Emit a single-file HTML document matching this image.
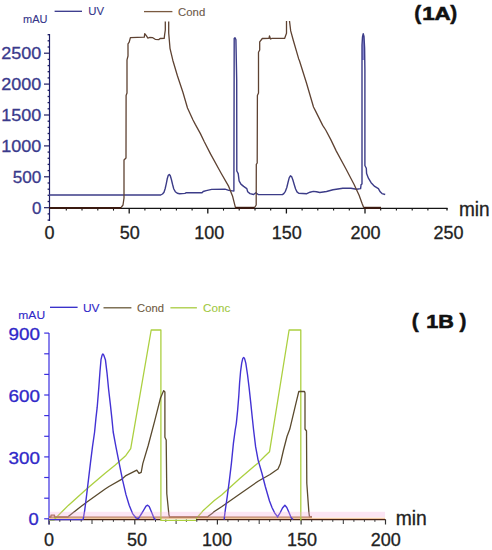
<!DOCTYPE html>
<html><head><meta charset="utf-8"><style>
html,body{margin:0;padding:0;background:#fff;overflow:hidden;}
svg{display:block;}
text{font-family:"Liberation Sans", sans-serif;}
</style></head><body>
<svg width="492" height="550" viewBox="0 0 492 550">
<rect width="492" height="550" fill="#fff"/>
<line x1="49.5" y1="34" x2="49.5" y2="221" stroke="#1e1e66" stroke-width="1.2"/>
<line x1="44" y1="207.7" x2="49.5" y2="207.7" stroke="#1e1e66" stroke-width="1.2"/>
<line x1="44" y1="176.8" x2="49.5" y2="176.8" stroke="#1e1e66" stroke-width="1.2"/>
<line x1="44" y1="145.9" x2="49.5" y2="145.9" stroke="#1e1e66" stroke-width="1.2"/>
<line x1="44" y1="115.0" x2="49.5" y2="115.0" stroke="#1e1e66" stroke-width="1.2"/>
<line x1="44" y1="84.1" x2="49.5" y2="84.1" stroke="#1e1e66" stroke-width="1.2"/>
<line x1="44" y1="53.2" x2="49.5" y2="53.2" stroke="#1e1e66" stroke-width="1.2"/>
<line x1="47.6" y1="220.1" x2="49.5" y2="220.1" stroke="#1e1e66" stroke-width="1.3"/>
<line x1="47.6" y1="213.9" x2="49.5" y2="213.9" stroke="#1e1e66" stroke-width="1.3"/>
<line x1="47.6" y1="201.5" x2="49.5" y2="201.5" stroke="#1e1e66" stroke-width="1.3"/>
<line x1="47.6" y1="195.3" x2="49.5" y2="195.3" stroke="#1e1e66" stroke-width="1.3"/>
<line x1="47.6" y1="189.2" x2="49.5" y2="189.2" stroke="#1e1e66" stroke-width="1.3"/>
<line x1="47.6" y1="183.0" x2="49.5" y2="183.0" stroke="#1e1e66" stroke-width="1.3"/>
<line x1="47.6" y1="170.6" x2="49.5" y2="170.6" stroke="#1e1e66" stroke-width="1.3"/>
<line x1="47.6" y1="164.4" x2="49.5" y2="164.4" stroke="#1e1e66" stroke-width="1.3"/>
<line x1="47.6" y1="158.3" x2="49.5" y2="158.3" stroke="#1e1e66" stroke-width="1.3"/>
<line x1="47.6" y1="152.1" x2="49.5" y2="152.1" stroke="#1e1e66" stroke-width="1.3"/>
<line x1="47.6" y1="139.7" x2="49.5" y2="139.7" stroke="#1e1e66" stroke-width="1.3"/>
<line x1="47.6" y1="133.5" x2="49.5" y2="133.5" stroke="#1e1e66" stroke-width="1.3"/>
<line x1="47.6" y1="127.4" x2="49.5" y2="127.4" stroke="#1e1e66" stroke-width="1.3"/>
<line x1="47.6" y1="121.2" x2="49.5" y2="121.2" stroke="#1e1e66" stroke-width="1.3"/>
<line x1="47.6" y1="108.8" x2="49.5" y2="108.8" stroke="#1e1e66" stroke-width="1.3"/>
<line x1="47.6" y1="102.6" x2="49.5" y2="102.6" stroke="#1e1e66" stroke-width="1.3"/>
<line x1="47.6" y1="96.5" x2="49.5" y2="96.5" stroke="#1e1e66" stroke-width="1.3"/>
<line x1="47.6" y1="90.3" x2="49.5" y2="90.3" stroke="#1e1e66" stroke-width="1.3"/>
<line x1="47.6" y1="77.9" x2="49.5" y2="77.9" stroke="#1e1e66" stroke-width="1.3"/>
<line x1="47.6" y1="71.7" x2="49.5" y2="71.7" stroke="#1e1e66" stroke-width="1.3"/>
<line x1="47.6" y1="65.6" x2="49.5" y2="65.6" stroke="#1e1e66" stroke-width="1.3"/>
<line x1="47.6" y1="59.4" x2="49.5" y2="59.4" stroke="#1e1e66" stroke-width="1.3"/>
<line x1="47.6" y1="47.0" x2="49.5" y2="47.0" stroke="#1e1e66" stroke-width="1.3"/>
<line x1="47.6" y1="40.8" x2="49.5" y2="40.8" stroke="#1e1e66" stroke-width="1.3"/>
<line x1="47.6" y1="34.7" x2="49.5" y2="34.7" stroke="#1e1e66" stroke-width="1.3"/>
<text x="41.3" y="213.5" font-size="16" fill="#3a3a8c" text-anchor="end" font-weight="normal" stroke="#3a3a8c" stroke-width="0.3" textLength="9.4" lengthAdjust="spacingAndGlyphs">0</text>
<text x="41.3" y="182.6" font-size="16" fill="#3a3a8c" text-anchor="end" font-weight="normal" stroke="#3a3a8c" stroke-width="0.3" textLength="28.6" lengthAdjust="spacingAndGlyphs">500</text>
<text x="41.3" y="151.7" font-size="16" fill="#3a3a8c" text-anchor="end" font-weight="normal" stroke="#3a3a8c" stroke-width="0.3" textLength="40" lengthAdjust="spacingAndGlyphs">1000</text>
<text x="41.3" y="120.8" font-size="16" fill="#3a3a8c" text-anchor="end" font-weight="normal" stroke="#3a3a8c" stroke-width="0.3" textLength="40" lengthAdjust="spacingAndGlyphs">1500</text>
<text x="41.3" y="89.9" font-size="16" fill="#3a3a8c" text-anchor="end" font-weight="normal" stroke="#3a3a8c" stroke-width="0.3" textLength="40" lengthAdjust="spacingAndGlyphs">2000</text>
<text x="41.3" y="59.0" font-size="16" fill="#3a3a8c" text-anchor="end" font-weight="normal" stroke="#3a3a8c" stroke-width="0.3" textLength="40" lengthAdjust="spacingAndGlyphs">2500</text>
<line x1="49" y1="208.4" x2="447.5" y2="208.4" stroke="#151515" stroke-width="1.4"/>
<line x1="129.2" y1="208" x2="129.2" y2="213.5" stroke="#151515" stroke-width="1.3"/>
<line x1="207.8" y1="208" x2="207.8" y2="213.5" stroke="#151515" stroke-width="1.3"/>
<line x1="286.4" y1="208" x2="286.4" y2="213.5" stroke="#151515" stroke-width="1.3"/>
<line x1="365.0" y1="208" x2="365.0" y2="213.5" stroke="#151515" stroke-width="1.3"/>
<line x1="66.3" y1="208" x2="66.3" y2="210.6" stroke="#151515" stroke-width="1.1"/>
<line x1="82.0" y1="208" x2="82.0" y2="210.6" stroke="#151515" stroke-width="1.1"/>
<line x1="97.8" y1="208" x2="97.8" y2="210.6" stroke="#151515" stroke-width="1.1"/>
<line x1="113.5" y1="208" x2="113.5" y2="210.6" stroke="#151515" stroke-width="1.1"/>
<line x1="144.9" y1="208" x2="144.9" y2="210.6" stroke="#151515" stroke-width="1.1"/>
<line x1="160.6" y1="208" x2="160.6" y2="210.6" stroke="#151515" stroke-width="1.1"/>
<line x1="176.4" y1="208" x2="176.4" y2="210.6" stroke="#151515" stroke-width="1.1"/>
<line x1="192.1" y1="208" x2="192.1" y2="210.6" stroke="#151515" stroke-width="1.1"/>
<line x1="223.5" y1="208" x2="223.5" y2="210.6" stroke="#151515" stroke-width="1.1"/>
<line x1="239.2" y1="208" x2="239.2" y2="210.6" stroke="#151515" stroke-width="1.1"/>
<line x1="255.0" y1="208" x2="255.0" y2="210.6" stroke="#151515" stroke-width="1.1"/>
<line x1="270.7" y1="208" x2="270.7" y2="210.6" stroke="#151515" stroke-width="1.1"/>
<line x1="302.1" y1="208" x2="302.1" y2="210.6" stroke="#151515" stroke-width="1.1"/>
<line x1="317.8" y1="208" x2="317.8" y2="210.6" stroke="#151515" stroke-width="1.1"/>
<line x1="333.6" y1="208" x2="333.6" y2="210.6" stroke="#151515" stroke-width="1.1"/>
<line x1="349.3" y1="208" x2="349.3" y2="210.6" stroke="#151515" stroke-width="1.1"/>
<line x1="380.7" y1="208" x2="380.7" y2="210.6" stroke="#151515" stroke-width="1.1"/>
<line x1="396.4" y1="208" x2="396.4" y2="210.6" stroke="#151515" stroke-width="1.1"/>
<line x1="412.2" y1="208" x2="412.2" y2="210.6" stroke="#151515" stroke-width="1.1"/>
<line x1="427.9" y1="208" x2="427.9" y2="210.6" stroke="#151515" stroke-width="1.1"/>
<line x1="447" y1="208" x2="447" y2="210.6" stroke="#151515" stroke-width="1.3"/>
<text x="49.5" y="239" font-size="18" fill="#222" text-anchor="middle" font-weight="normal" stroke="#222" stroke-width="0.3">0</text>
<text x="129.8" y="239" font-size="18" fill="#222" text-anchor="middle" font-weight="normal" stroke="#222" stroke-width="0.3">50</text>
<text x="209.2" y="239" font-size="18" fill="#222" text-anchor="middle" font-weight="normal" stroke="#222" stroke-width="0.3">100</text>
<text x="286.8" y="239" font-size="18" fill="#222" text-anchor="middle" font-weight="normal" stroke="#222" stroke-width="0.3">150</text>
<text x="365.5" y="239" font-size="18" fill="#222" text-anchor="middle" font-weight="normal" stroke="#222" stroke-width="0.3">200</text>
<text x="448.5" y="239" font-size="18" fill="#222" text-anchor="middle" font-weight="normal" stroke="#222" stroke-width="0.3">250</text>
<text x="459" y="215.6" font-size="19.5" fill="#222" text-anchor="start" font-weight="normal" stroke="#222" stroke-width="0.3" textLength="30.7" lengthAdjust="spacingAndGlyphs">min</text>
<text x="23" y="23.4" font-size="10" fill="#35358a" text-anchor="start" font-weight="normal" stroke="#35358a" stroke-width="0.1" textLength="24.4" lengthAdjust="spacingAndGlyphs">mAU</text>
<line x1="54.6" y1="11.3" x2="82" y2="11.3" stroke="#35358a" stroke-width="1.3"/>
<text x="88.2" y="15.3" font-size="11.5" fill="#35358a" text-anchor="start" font-weight="normal" stroke="#35358a" stroke-width="0.1" textLength="15.8" lengthAdjust="spacingAndGlyphs">UV</text>
<line x1="144" y1="11.6" x2="172.4" y2="11.6" stroke="#7a5a40" stroke-width="1.3"/>
<text x="178.1" y="15.8" font-size="11.5" fill="#6b5848" text-anchor="start" font-weight="normal" stroke="#6b5848" stroke-width="0.1" textLength="27.1" lengthAdjust="spacingAndGlyphs">Cond</text>
<text x="414.2" y="19.6" font-size="20.8" fill="#111" text-anchor="start" font-weight="bold" stroke="#111" stroke-width="0.5">(</text>
<text x="422.2" y="19.6" font-size="18.6" fill="#111" text-anchor="start" font-weight="bold" stroke="#111" stroke-width="0.6" textLength="28.6" lengthAdjust="spacingAndGlyphs">1A</text>
<text x="450.2" y="19.6" font-size="20.8" fill="#111" text-anchor="start" font-weight="bold" stroke="#111" stroke-width="0.5">)</text>
<path d="M362,60 L362.5,37 L363.2,34.5 L364,37 L364.8,60 Z" fill="#8a8ad6"/>
<path d="M49.0,195.0 L160.7,195.0 L162.5,194.0 L164.0,192.2 L165.2,188.5 L166.3,183.6 L167.3,178.5 L168.3,175.3 L169.3,174.5 L170.3,175.8 L171.4,179.5 L172.6,184.5 L173.8,189.0 L175.3,191.7 L177.3,193.2 L179.6,193.7 L185.0,193.4 L186.0,192.7 L202.0,192.7 L203.2,191.5 L206.2,190.6 L211.7,189.4 L225.0,189.2 L228.8,190.4 L232.4,190.9 L233.9,191.0 L234.2,38.6 L235.0,37.8 L235.9,39.5 L236.7,80.0 L236.8,171.0 L238.2,173.6 L239.1,180.9 L240.9,184.1 L243.6,186.4 L246.8,188.6 L247.7,191.8 L250.0,193.6 L253.6,194.5 L255.9,192.7 L258.2,194.5 L282.4,194.6 L283.8,193.6 L285.4,191.3 L286.8,187.5 L288.0,182.5 L289.2,177.8 L290.4,175.8 L291.6,176.6 L292.9,180.0 L294.2,184.5 L295.6,189.0 L297.0,191.9 L298.7,193.3 L306.8,193.7 L310.0,192.2 L313.3,191.4 L316.5,191.7 L319.8,192.5 L326.5,191.5 L333.0,189.8 L342.8,188.2 L350.9,188.2 L356.6,189.3 L360.6,188.6 L361.1,184.6 L362.0,184.0 L362.0,45.0 L362.5,37.0 L363.2,33.8 L364.0,36.5 L364.6,48.0 L364.9,70.0 L364.9,165.5 L366.3,168.2 L366.6,173.6 L368.4,178.2 L371.1,182.7 L374.7,186.4 L378.4,188.6 L380.2,191.8 L382.0,193.6 L385.2,194.5" fill="none" stroke="#3c3c88" stroke-width="1.4" stroke-linejoin="round"/>
<path d="M49.0,207.6 L121.0,207.6 L123.0,205.0 L124.0,198.0 L124.0,160.0 L126.0,158.0 L126.1,95.5 L127.0,93.0 L127.0,59.8 L128.0,56.0 L128.0,43.8 L129.2,42.2 L130.4,37.7 L144.3,37.2 L144.7,33.7 L146.3,35.7 L147.9,38.1 L149.5,37.5 L152.8,37.7 L155.2,39.3 L158.9,39.6 L160.1,38.5 L164.2,38.4 L164.6,34.9 L165.3,30.0 L165.3,21.5" fill="none" stroke="#5e4232" stroke-width="1.3" stroke-linejoin="round"/>
<path d="M168.7,21.5 L168.7,33.0 L170.0,48.3 L172.8,60.2 L177.4,75.7 L182.9,92.2 L187.5,108.0 L193.0,120.0 L195.3,124.4 L200.4,133.6 L204.3,141.8 L210.5,153.9 L221.0,173.0 L228.7,186.4 L232.5,195.9 L235.4,207.4 L254.6,207.5 L256.2,205.0 L256.3,164.3 L257.2,163.0 L257.4,95.4 L258.5,93.0 L258.5,52.3 L259.7,50.0 L259.7,41.9 L262.3,38.5 L269.0,38.4 L269.5,36.0 L270.5,39.0 L272.0,38.4 L284.6,38.4 L286.5,33.3 L286.5,21.1" fill="none" stroke="#5e4232" stroke-width="1.3" stroke-linejoin="round"/>
<path d="M289.5,21.0 L290.7,30.9 L293.2,40.0 L298.7,58.9 L299.3,60.3 L306.4,82.7 L313.5,107.0 L315.6,111.1 L322.7,125.4 L325.7,130.0 L330.8,139.6 L336.3,151.1 L346.0,169.0 L354.1,184.5 L359.0,195.0 L362.0,203.2 L363.6,207.2 L381.0,207.5" fill="none" stroke="#5e4232" stroke-width="1.3" stroke-linejoin="round"/>
<line x1="49" y1="208" x2="121" y2="208" stroke="#3a1a10" stroke-width="1.9"/>
<line x1="235.4" y1="208" x2="254.2" y2="208" stroke="#3a1a10" stroke-width="1.9"/>
<line x1="363.6" y1="208" x2="381" y2="208" stroke="#3a1a10" stroke-width="1.9"/>
<line x1="49" y1="333" x2="49" y2="524.5" stroke="#3a2ee0" stroke-width="1.2"/>
<line x1="44.2" y1="518.8" x2="49" y2="518.8" stroke="#3a2ee0" stroke-width="1.2"/>
<line x1="44.2" y1="498.2" x2="49" y2="498.2" stroke="#3a2ee0" stroke-width="1.2"/>
<line x1="44.2" y1="477.5" x2="49" y2="477.5" stroke="#3a2ee0" stroke-width="1.2"/>
<line x1="44.2" y1="456.9" x2="49" y2="456.9" stroke="#3a2ee0" stroke-width="1.2"/>
<line x1="44.2" y1="436.3" x2="49" y2="436.3" stroke="#3a2ee0" stroke-width="1.2"/>
<line x1="44.2" y1="415.6" x2="49" y2="415.6" stroke="#3a2ee0" stroke-width="1.2"/>
<line x1="44.2" y1="395.0" x2="49" y2="395.0" stroke="#3a2ee0" stroke-width="1.2"/>
<line x1="44.2" y1="374.4" x2="49" y2="374.4" stroke="#3a2ee0" stroke-width="1.2"/>
<line x1="44.2" y1="353.8" x2="49" y2="353.8" stroke="#3a2ee0" stroke-width="1.2"/>
<line x1="44.2" y1="333.1" x2="49" y2="333.1" stroke="#3a2ee0" stroke-width="1.2"/>
<text x="38.6" y="525.4" font-size="16" fill="#3028c8" text-anchor="end" font-weight="normal" stroke="#3028c8" stroke-width="0.3" textLength="10.2" lengthAdjust="spacingAndGlyphs">0</text>
<text x="39.9" y="463.5" font-size="16" fill="#3028c8" text-anchor="end" font-weight="normal" stroke="#3028c8" stroke-width="0.3" textLength="31.4" lengthAdjust="spacingAndGlyphs">300</text>
<text x="39.9" y="401.6" font-size="16" fill="#3028c8" text-anchor="end" font-weight="normal" stroke="#3028c8" stroke-width="0.3" textLength="31.4" lengthAdjust="spacingAndGlyphs">600</text>
<text x="39.9" y="339.7" font-size="16" fill="#3028c8" text-anchor="end" font-weight="normal" stroke="#3028c8" stroke-width="0.3" textLength="31.4" lengthAdjust="spacingAndGlyphs">900</text>
<line x1="49" y1="517.1" x2="312" y2="517.1" stroke="#a86a3c" stroke-width="1.2"/>
<line x1="49" y1="518.3" x2="385" y2="518.3" stroke="#efc4a0" stroke-width="1.2"/>
<line x1="49" y1="519.6" x2="161" y2="519.6" stroke="#4a2418" stroke-width="1.4"/>
<line x1="196" y1="519.6" x2="385.6" y2="519.6" stroke="#4a2418" stroke-width="1.4"/>
<line x1="49.1" y1="519.5" x2="49.1" y2="524.5" stroke="#333" stroke-width="1.2"/>
<line x1="134.8" y1="519.5" x2="134.8" y2="524.5" stroke="#333" stroke-width="1.2"/>
<line x1="217.4" y1="519.5" x2="217.4" y2="524.5" stroke="#333" stroke-width="1.2"/>
<line x1="301.1" y1="519.5" x2="301.1" y2="524.5" stroke="#333" stroke-width="1.2"/>
<line x1="385.5" y1="519.5" x2="385.5" y2="524.5" stroke="#333" stroke-width="1.2"/>
<line x1="59.8" y1="519.5" x2="59.8" y2="521.8" stroke="#333" stroke-width="1"/>
<line x1="70.5" y1="519.5" x2="70.5" y2="521.8" stroke="#333" stroke-width="1"/>
<line x1="81.2" y1="519.5" x2="81.2" y2="521.8" stroke="#333" stroke-width="1"/>
<line x1="92.0" y1="519.5" x2="92.0" y2="524" stroke="#333" stroke-width="1"/>
<line x1="102.7" y1="519.5" x2="102.7" y2="521.8" stroke="#333" stroke-width="1"/>
<line x1="113.4" y1="519.5" x2="113.4" y2="521.8" stroke="#333" stroke-width="1"/>
<line x1="124.1" y1="519.5" x2="124.1" y2="521.8" stroke="#333" stroke-width="1"/>
<line x1="145.1" y1="519.5" x2="145.1" y2="521.8" stroke="#333" stroke-width="1"/>
<line x1="155.5" y1="519.5" x2="155.5" y2="521.8" stroke="#333" stroke-width="1"/>
<line x1="165.8" y1="519.5" x2="165.8" y2="521.8" stroke="#333" stroke-width="1"/>
<line x1="176.1" y1="519.5" x2="176.1" y2="524" stroke="#333" stroke-width="1"/>
<line x1="186.4" y1="519.5" x2="186.4" y2="521.8" stroke="#333" stroke-width="1"/>
<line x1="196.8" y1="519.5" x2="196.8" y2="521.8" stroke="#333" stroke-width="1"/>
<line x1="207.1" y1="519.5" x2="207.1" y2="521.8" stroke="#333" stroke-width="1"/>
<line x1="227.9" y1="519.5" x2="227.9" y2="521.8" stroke="#333" stroke-width="1"/>
<line x1="238.3" y1="519.5" x2="238.3" y2="521.8" stroke="#333" stroke-width="1"/>
<line x1="248.8" y1="519.5" x2="248.8" y2="521.8" stroke="#333" stroke-width="1"/>
<line x1="259.2" y1="519.5" x2="259.2" y2="524" stroke="#333" stroke-width="1"/>
<line x1="269.7" y1="519.5" x2="269.7" y2="521.8" stroke="#333" stroke-width="1"/>
<line x1="280.2" y1="519.5" x2="280.2" y2="521.8" stroke="#333" stroke-width="1"/>
<line x1="290.6" y1="519.5" x2="290.6" y2="521.8" stroke="#333" stroke-width="1"/>
<line x1="311.7" y1="519.5" x2="311.7" y2="521.8" stroke="#333" stroke-width="1"/>
<line x1="322.2" y1="519.5" x2="322.2" y2="521.8" stroke="#333" stroke-width="1"/>
<line x1="332.8" y1="519.5" x2="332.8" y2="521.8" stroke="#333" stroke-width="1"/>
<line x1="343.3" y1="519.5" x2="343.3" y2="524" stroke="#333" stroke-width="1"/>
<line x1="353.9" y1="519.5" x2="353.9" y2="521.8" stroke="#333" stroke-width="1"/>
<line x1="364.4" y1="519.5" x2="364.4" y2="521.8" stroke="#333" stroke-width="1"/>
<line x1="374.9" y1="519.5" x2="374.9" y2="521.8" stroke="#333" stroke-width="1"/>
<text x="49.1" y="546.2" font-size="18" fill="#222" text-anchor="middle" font-weight="normal" stroke="#222" stroke-width="0.3">0</text>
<text x="137" y="546.2" font-size="18" fill="#222" text-anchor="middle" font-weight="normal" stroke="#222" stroke-width="0.3">50</text>
<text x="216.9" y="546.2" font-size="18" fill="#222" text-anchor="middle" font-weight="normal" stroke="#222" stroke-width="0.3">100</text>
<text x="302" y="546.2" font-size="18" fill="#222" text-anchor="middle" font-weight="normal" stroke="#222" stroke-width="0.3">150</text>
<text x="385.7" y="546.2" font-size="18" fill="#222" text-anchor="middle" font-weight="normal" stroke="#222" stroke-width="0.3">200</text>
<text x="395.7" y="525.2" font-size="19.5" fill="#222" text-anchor="start" font-weight="normal" stroke="#222" stroke-width="0.3" textLength="31.1" lengthAdjust="spacingAndGlyphs">min</text>
<text x="18.3" y="319.4" font-size="11" fill="#3028c8" text-anchor="start" font-weight="normal" stroke="#3028c8" stroke-width="0.1" textLength="26.8" lengthAdjust="spacingAndGlyphs">mAU</text>
<line x1="50" y1="307.3" x2="77.6" y2="307.3" stroke="#3028c8" stroke-width="1.3"/>
<text x="82.9" y="311.7" font-size="11.5" fill="#3028c8" text-anchor="start" font-weight="normal" stroke="#3028c8" stroke-width="0.1" textLength="16.6" lengthAdjust="spacingAndGlyphs">UV</text>
<line x1="103.5" y1="307.8" x2="131.4" y2="307.8" stroke="#6a5a3a" stroke-width="1.3"/>
<text x="137.1" y="312" font-size="11.5" fill="#6e5a40" text-anchor="start" font-weight="normal" stroke="#6e5a40" stroke-width="0.1" textLength="26.8" lengthAdjust="spacingAndGlyphs">Cond</text>
<line x1="170.4" y1="307.8" x2="196.9" y2="307.8" stroke="#a8cc40" stroke-width="1.3"/>
<text x="203.1" y="312" font-size="11.5" fill="#a0c840" text-anchor="start" font-weight="normal" stroke="#a0c840" stroke-width="0.1" textLength="27.1" lengthAdjust="spacingAndGlyphs">Conc</text>
<text x="411.8" y="327.7" font-size="20.8" fill="#111" text-anchor="start" font-weight="bold" stroke="#111" stroke-width="0.5">(</text>
<text x="426.3" y="327.6" font-size="18.6" fill="#111" text-anchor="start" font-weight="bold" stroke="#111" stroke-width="0.6" textLength="27.6" lengthAdjust="spacingAndGlyphs">1B</text>
<text x="459.4" y="327.7" font-size="20.8" fill="#111" text-anchor="start" font-weight="bold" stroke="#111" stroke-width="0.5">)</text>
<path d="M49.0,520.2 L54.0,520.2 L55.5,518.2 L68.3,505.4 L86.6,489.0 L104.8,473.4 L115.0,465.3 L125.9,455.4 L130.7,448.6 L151.2,330.0 L160.9,330.0 L160.9,520.4 L196.0,520.4" fill="none" stroke="#acd040" stroke-width="1.3" stroke-linejoin="round"/>
<path d="M196.0,518.8 L200.9,513.3 L203.3,510.4 L214.3,500.5 L221.6,494.9 L239.8,478.4 L258.1,462.9 L265.0,456.0 L269.5,451.8 L289.1,330.0 L300.8,330.0 L300.8,520.4" fill="none" stroke="#acd040" stroke-width="1.3" stroke-linejoin="round"/>
<path d="M68.3,516.6 L73.0,512.7 L80.0,507.3 L86.6,502.2 L104.8,489.3 L109.0,486.5 L121.5,479.4 L125.9,475.6 L131.4,472.9 L136.8,470.2 L139.0,473.4 L141.2,472.3 L142.8,463.6 L148.2,445.5 L154.7,420.9 L160.5,398.0 L163.7,390.6 L164.9,392.0 L164.9,437.3 L166.2,440.0 L166.8,493.7 L168.9,514.6 L169.5,516.6" fill="none" stroke="#5a4a2e" stroke-width="1.3" stroke-linejoin="round"/>
<path d="M207.6,516.8 L212.4,513.2 L214.3,511.5 L221.6,506.8 L239.8,494.0 L258.1,481.2 L262.0,479.0 L270.0,474.5 L275.0,471.0 L278.0,469.0 L280.4,463.4 L283.5,450.0 L287.0,436.5 L289.8,429.1 L296.4,401.3 L298.8,391.5 L304.5,391.5 L305.0,393.0 L305.0,429.0 L306.5,431.0 L306.8,483.2 L308.9,512.5 L309.5,516.6" fill="none" stroke="#5a4a2e" stroke-width="1.3" stroke-linejoin="round"/>
<path d="M49.0,516.8 L51.0,516.8 L51.0,515.2 L54.5,515.2 L54.5,516.8 L68.5,516.8" fill="none" stroke="#96603a" stroke-width="1.3" stroke-linejoin="round"/>
<path d="M169.0,516.8 L208.0,516.8" fill="none" stroke="#96603a" stroke-width="1.3" stroke-linejoin="round"/>
<path d="M309.3,516.6 L312.0,516.6" fill="none" stroke="#96603a" stroke-width="1.3" stroke-linejoin="round"/>
<path d="M49.0,519.6 L83.0,519.6 L83.3,518.6 L84.7,510.3 L86.4,496.9 L88.4,480.2 L90.4,463.4 L92.5,446.7 L94.6,432.0 L95.9,418.6 L97.2,407.2 L98.8,387.6 L100.0,371.2 L101.0,359.7 L102.1,355.2 L102.9,354.0 L103.8,355.2 L105.4,359.7 L107.0,372.8 L108.6,389.2 L110.3,403.9 L111.9,418.6 L113.2,432.0 L115.9,446.7 L119.2,463.4 L122.6,480.2 L125.9,494.4 L129.2,505.3 L132.6,513.6 L135.9,517.8 L138.4,518.6 L142.6,512.0 L146.0,506.1 L147.6,505.2 L149.2,506.5 L151.5,512.0 L154.3,518.8 L156.0,519.6" fill="none" stroke="#4332d4" stroke-width="1.4" stroke-linejoin="round"/>
<path d="M224.2,519.6 L224.4,517.0 L225.5,508.6 L227.2,496.9 L229.4,480.2 L231.4,463.4 L233.4,443.4 L235.2,430.0 L236.3,423.6 L237.6,410.6 L238.8,395.8 L239.6,382.7 L240.6,371.3 L241.7,363.1 L242.8,358.4 L243.7,357.4 L244.6,358.6 L245.8,363.1 L247.5,374.5 L249.1,387.6 L250.7,402.4 L252.4,418.7 L253.6,430.0 L255.6,446.7 L258.1,460.1 L262.0,473.5 L265.3,486.5 L269.5,501.0 L272.0,507.5 L274.6,512.8 L277.6,516.9 L280.0,513.0 L282.5,508.0 L284.9,505.2 L286.8,507.5 L289.0,512.5 L291.2,517.7 L293.0,519.6" fill="none" stroke="#4332d4" stroke-width="1.4" stroke-linejoin="round"/>
<rect x="49.5" y="511.8" width="335.5" height="5.4" fill="#f4a8dc" fill-opacity="0.3"/>
</svg></body></html>
